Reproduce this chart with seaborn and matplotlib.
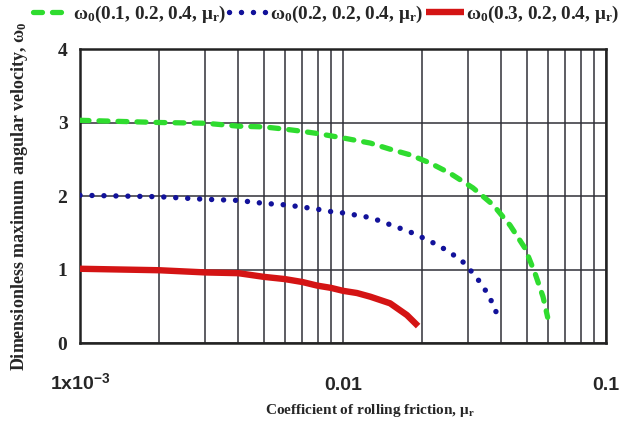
import matplotlib
matplotlib.use("Agg")
import matplotlib.pyplot as plt
import seaborn as sns
import pandas as pd
from matplotlib.ticker import LogLocator, NullFormatter

# Rolling-friction coefficient and dimensionless max angular velocity
mu_green = [0.001, 0.002, 0.003, 0.004, 0.005, 0.006, 0.007, 0.008, 0.01, 0.0127,
            0.015, 0.018, 0.0214, 0.0255, 0.0312, 0.0372, 0.0432, 0.0492, 0.0537,
            0.0576, 0.06]
w_green = [3.03, 3.00, 2.99, 2.95, 2.94, 2.91, 2.88, 2.85, 2.79, 2.72,
           2.64, 2.56, 2.45, 2.31, 2.11, 1.88, 1.60, 1.29, 0.95,
           0.63, 0.35]

mu_blue = [0.001, 0.002, 0.003, 0.004, 0.005, 0.006, 0.007, 0.008, 0.0089, 0.01,
           0.011, 0.0123, 0.0136, 0.0151, 0.0168, 0.0186, 0.0207, 0.023, 0.0253,
           0.0283, 0.0312, 0.034, 0.0365, 0.0385]
w_blue = [2.01, 1.99, 1.955, 1.94, 1.90, 1.88, 1.85, 1.82, 1.79, 1.77,
          1.745, 1.715, 1.67, 1.61, 1.55, 1.49, 1.41, 1.33, 1.24,
          1.12, 0.95, 0.78, 0.585, 0.395]

mu_red = [0.001, 0.002, 0.003, 0.004, 0.005, 0.006, 0.007, 0.008, 0.009, 0.01,
          0.0113, 0.0127, 0.0151, 0.0175, 0.0193]
w_red = [1.01, 0.99, 0.96, 0.95, 0.90, 0.87, 0.83, 0.78, 0.75, 0.71,
         0.68, 0.63, 0.54, 0.38, 0.23]

labels = ["ω$_\\mathrm{0}$(0.1, 0.2, 0.4, μ$_\\mathrm{r}$)",
          "ω$_\\mathrm{0}$(0.2, 0.2, 0.4, μ$_\\mathrm{r}$)",
          "ω$_\\mathrm{0}$(0.3, 0.2, 0.4, μ$_\\mathrm{r}$)"]

x_ticks = [0.001, 0.01, 0.1]
x_ticklabels = ["1x10$^{\\mathsf{-3}}$", "0.01", "0.1"]
y_ticks = [0, 1, 2, 3, 4]

sns.set_style("white")
plt.rcParams["font.family"] = ["Liberation Serif", "DejaVu Serif"]
plt.rcParams["font.weight"] = "bold"
plt.rcParams["mathtext.fontset"] = "custom"
plt.rcParams["mathtext.rm"] = "Liberation Serif:bold"
plt.rcParams["mathtext.bf"] = "Liberation Serif:bold"
plt.rcParams["mathtext.it"] = "Liberation Serif:italic:bold"
plt.rcParams["mathtext.sf"] = "Liberation Sans:bold"

fig = plt.figure(figsize=(6.32, 4.33), dpi=100)
ax = fig.add_axes([80 / 632, 1 - 343 / 433, 526 / 632, 294 / 433])

df_g = pd.DataFrame({"mu": mu_green, "w": w_green})
df_b = pd.DataFrame({"mu": mu_blue, "w": w_blue})
df_r = pd.DataFrame({"mu": mu_red, "w": w_red})

sns.lineplot(data=df_g, x="mu", y="w", ax=ax, color="#2fdc2f", lw=3.8,
             linestyle=(0, (1.7, 1.9)), dash_capstyle="round", label=labels[0],
             zorder=4)
sns.lineplot(data=df_b, x="mu", y="w", ax=ax, color="#12129a", lw=3.9,
             linestyle=(0, (0.01, 2.2)), dash_capstyle="round", label=labels[1],
             zorder=4)
sns.lineplot(data=df_r, x="mu", y="w", ax=ax, color="#d41414", lw=4.6,
             solid_capstyle="butt", label=labels[2], zorder=4)

ax.set_xscale("log")
ax.set_xlim(0.001, 0.1)
ax.set_ylim(0, 4)
ax.set_yticks(y_ticks)
ax.set_xticks(x_ticks)
ax.set_xticklabels(x_ticklabels)
ax.xaxis.set_minor_locator(LogLocator(base=10, subs=range(2, 10)))
ax.xaxis.set_minor_formatter(NullFormatter())

ax.grid(True, which="both", axis="x", color="#303038", lw=1.1)
ax.grid(True, which="major", axis="y", color="#303038", lw=1.1)
ax.set_axisbelow(True)
for s in ax.spines.values():
    s.set_color("#222222")
    s.set_linewidth(1.8)

ax.tick_params(axis="both", which="both", length=0)
ax.tick_params(axis="y", pad=9, labelsize=14)
ax.tick_params(axis="x", pad=34, labelsize=14)
for lab in ax.get_yticklabels():
    lab.set_fontfamily(["Liberation Serif"])
    lab.set_fontweight("bold")
for lab in ax.get_xticklabels():
    lab.set_fontfamily(["Liberation Sans"])
    lab.set_fontweight("bold")
    lab.set_va("baseline")

ax.set_xlabel("Coefficient of rolling friction, μ$_\\mathrm{r}$", fontsize=11,
              fontweight="bold")
ax.xaxis.set_label_coords(0.551, -0.20)
ax.xaxis.label.set_va("top")
ax.set_ylabel("Dimensionless maximum angular velocity, ω$_\\mathrm{0}$",
              fontsize=13, fontweight="bold")
ax.yaxis.set_label_coords(-0.095, 0.5)

ax.get_legend().remove()
h, l = ax.get_legend_handles_labels()
fig.legend(h, l, loc="center", bbox_to_anchor=(0.516, 0.967), ncol=3,
           frameon=False, fontsize=13.8, handlelength=2.0, handletextpad=0.12,
           columnspacing=0.15, borderpad=0.1)

fig.savefig("out.png", dpi=100)
